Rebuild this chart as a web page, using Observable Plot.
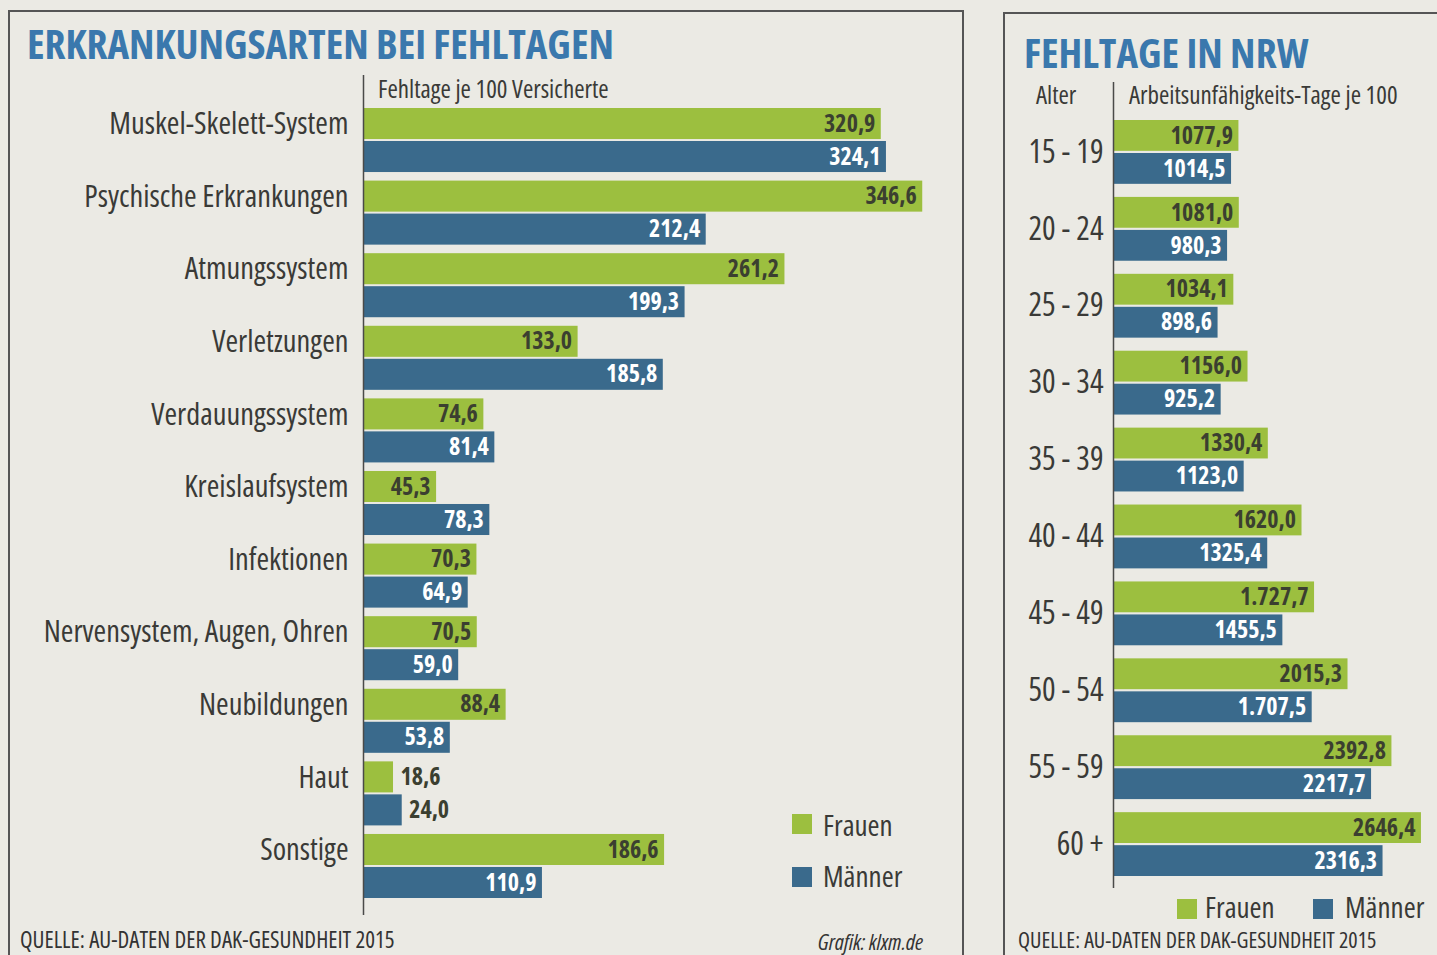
<!DOCTYPE html>
<html><head><meta charset="utf-8">
<script src="https://cdn.jsdelivr.net/npm/d3@7"></script>
<script src="https://cdn.jsdelivr.net/npm/@observablehq/plot@0.6"></script>
<style>
body{margin:0;background:#ebeae4;}
#page{position:relative;width:1437px;height:955px;overflow:hidden;background:#ebeae4;
 font-family:"Open Sans","Liberation Sans Narrow","DejaVu Sans Condensed",sans-serif;font-stretch:75%;color:#3a3a37;}
.abs{position:absolute;white-space:nowrap;line-height:1;}
.title{font-weight:700;color:#3a78ad;font-size:41px;}
.sub{font-size:25px;color:#3a3a37;}
.leg{font-size:29px;color:#3a3a37;}
.sw{position:absolute;width:20px;height:20px;}
.src{font-size:23px;color:#333;}
.box{position:absolute;border:2px solid #555;border-bottom:none;}
svg{position:absolute;overflow:visible;}
</style></head>
<body><div id="page">
<div class="box" style="left:8px;top:10px;width:952px;height:960px;"></div>
<div class="box" style="left:1003px;top:12px;width:460px;height:960px;border-right:none;"></div>
<div class="abs title" style="left:27px;top:23px;">ERKRANKUNGSARTEN BEI FEHLTAGEN</div>
<div class="abs title" style="left:1024px;top:32px;">FEHLTAGE IN NRW</div>
<div class="abs sub" style="left:378px;top:76px;">Fehltage je 100 Versicherte</div>
<div class="abs sub" style="left:1036px;top:82px;">Alter</div>
<div class="abs sub" style="left:1129px;top:82px;">Arbeitsunfähigkeits-Tage je 100</div>
<div class="sw" style="left:792px;top:814px;background:#9cbf3f;"></div>
<div class="abs leg" style="left:823px;top:810px;">Frauen</div>
<div class="sw" style="left:792px;top:867px;background:#3a6a8c;"></div>
<div class="abs leg" style="left:823px;top:861px;">Männer</div>
<div class="sw" style="left:1177px;top:899px;background:#9cbf3f;"></div>
<div class="abs leg" style="left:1205px;top:892px;">Frauen</div>
<div class="sw" style="left:1313px;top:899px;background:#3a6a8c;"></div>
<div class="abs leg" style="left:1345px;top:892px;">Männer</div>
<div class="abs src" style="left:20px;top:928px;">QUELLE: AU-DATEN DER DAK-GESUNDHEIT 2015</div>
<div class="abs src" style="left:818px;top:930px;font-style:italic;font-size:22px;">Grafik: klxm.de</div>
<div class="abs src" style="left:1018px;top:928px;font-size:22px;">QUELLE: AU-DATEN DER DAK-GESUNDHEIT 2015</div>
</div>
<script>
const categories = ["Muskel-Skelett-System","Psychische Erkrankungen","Atmungssystem","Verletzungen","Verdauungssystem","Kreislaufsystem","Infektionen","Nervensystem, Augen, Ohren","Neubildungen","Haut","Sonstige"];
const frauen = [320.9, 346.6, 261.2, 133.0, 74.6, 45.3, 70.3, 70.5, 88.4, 18.6, 186.6];
const maenner = [324.1, 212.4, 199.3, 185.8, 81.4, 78.3, 64.9, 59.0, 53.8, 24.0, 110.9];

const ages = ["15 - 19","20 - 24","25 - 29","30 - 34","35 - 39","40 - 44","45 - 49","50 - 54","55 - 59","60 +"];
const nrwFrauen = [1077.9, 1081.0, 1034.1, 1156.0, 1330.4, 1620.0, 1727.7, 2015.3, 2392.8, 2646.4];
const nrwMaenner = [1014.5, 980.3, 898.6, 925.2, 1123.0, 1325.4, 1455.5, 1707.5, 2217.7, 2316.3];
const nrwFrauenLabels = ["1077,9","1081,0","1034,1","1156,0","1330,4","1620,0","1.727,7","2015,3","2392,8","2646,4"];
const nrwMaennerLabels = ["1014,5","980,3","898,6","925,2","1123,0","1325,4","1455,5","1.707,5","2217,7","2316,3"];

const GREEN = "#9cbf3f", BLUE = "#3a6a8c", DARK = "#3b3f30", INK = "#3a3a37";
const FONT = getComputedStyle(document.getElementById("page")).fontFamily;
const fmt = v => d3.format(".1f")(v).replace(".", ",");

const left = categories.map((c, i) => ({c, f: frauen[i], m: maenner[i]}));
const k1 = 597 / 370;
const inside = v => v * k1 > 48;

const p1 = Plot.plot({
  width: 962, height: 955,
  marginLeft: 363, marginRight: 2, marginTop: 75, marginBottom: 40,
  style: {fontFamily: FONT, fontStretch: "75%", background: "transparent", color: INK, overflow: "visible"},
  x: {domain: [0, 370], axis: null},
  y: {domain: categories, paddingInner: 0.118, paddingOuter: 0, insetTop: 33, insetBottom: 17, round: false, label: null},
  marks: [
    Plot.barX(left, {y: "c", x: "f", fill: GREEN, insetBottom: 33}),
    Plot.barX(left, {y: "c", x: "m", fill: BLUE, insetTop: 33}),
    Plot.text(left, {y: "c", x: "f", text: d => fmt(d.f), dy: -16.5, dx: -6,
      textAnchor: "end", fill: DARK, fontSize: 24, fontWeight: "bold",
      filter: d => inside(d.f)}),
    Plot.text(left, {y: "c", x: "f", text: d => fmt(d.f), dy: -16.5, dx: 7,
      textAnchor: "start", fill: DARK, fontSize: 24, fontWeight: "bold",
      filter: d => !inside(d.f)}),
    Plot.text(left, {y: "c", x: "m", text: d => fmt(d.m), dy: 16.5, dx: -6,
      textAnchor: "end", fill: "white", fontSize: 24, fontWeight: "bold",
      filter: d => inside(d.m)}),
    Plot.text(left, {y: "c", x: "m", text: d => fmt(d.m), dy: 16.5, dx: 7,
      textAnchor: "start", fill: DARK, fontSize: 24, fontWeight: "bold",
      filter: d => !inside(d.m)}),
    Plot.axisY({tickSize: 0, tickPadding: 15, fontSize: 30.5, dy: -16, label: null, fill: INK}),
    Plot.ruleX([0], {stroke: "#4a4a48", strokeWidth: 1.5})
  ]
});
p1.style.left = "0px"; p1.style.top = "0px";
document.getElementById("page").appendChild(p1);

const right = ages.map((a, i) => ({a, f: nrwFrauen[i], m: nrwMaenner[i], fl: nrwFrauenLabels[i], ml: nrwMaennerLabels[i]}));
const p2 = Plot.plot({
  width: 434, height: 955,
  marginLeft: 110, marginRight: 4, marginTop: 82, marginBottom: 67,
  style: {fontFamily: FONT, fontStretch: "75%", background: "transparent", color: INK, overflow: "visible"},
  x: {domain: [0, 2750], axis: null},
  y: {domain: ages, paddingInner: 0.17, paddingOuter: 0, insetTop: 38, insetBottom: 12, round: false, label: null},
  marks: [
    Plot.barX(right, {y: "a", x: "f", fill: GREEN, insetBottom: 33}),
    Plot.barX(right, {y: "a", x: "m", fill: BLUE, insetTop: 33}),
    Plot.text(right, {y: "a", x: "f", text: "fl", dy: -16.5, dx: -6, textAnchor: "end", fill: DARK, fontSize: 24, fontWeight: "bold"}),
    Plot.text(right, {y: "a", x: "m", text: "ml", dy: 16.5, dx: -6, textAnchor: "end", fill: "white", fontSize: 24, fontWeight: "bold"}),
    Plot.axisY({tickSize: 0, tickPadding: 10, fontSize: 32, label: null, fill: INK}),
    Plot.ruleX([0], {stroke: "#4a4a48", strokeWidth: 1.5})
  ]
});
p2.style.left = "1003px"; p2.style.top = "0px";
document.getElementById("page").appendChild(p2);
</script>
</body></html>
